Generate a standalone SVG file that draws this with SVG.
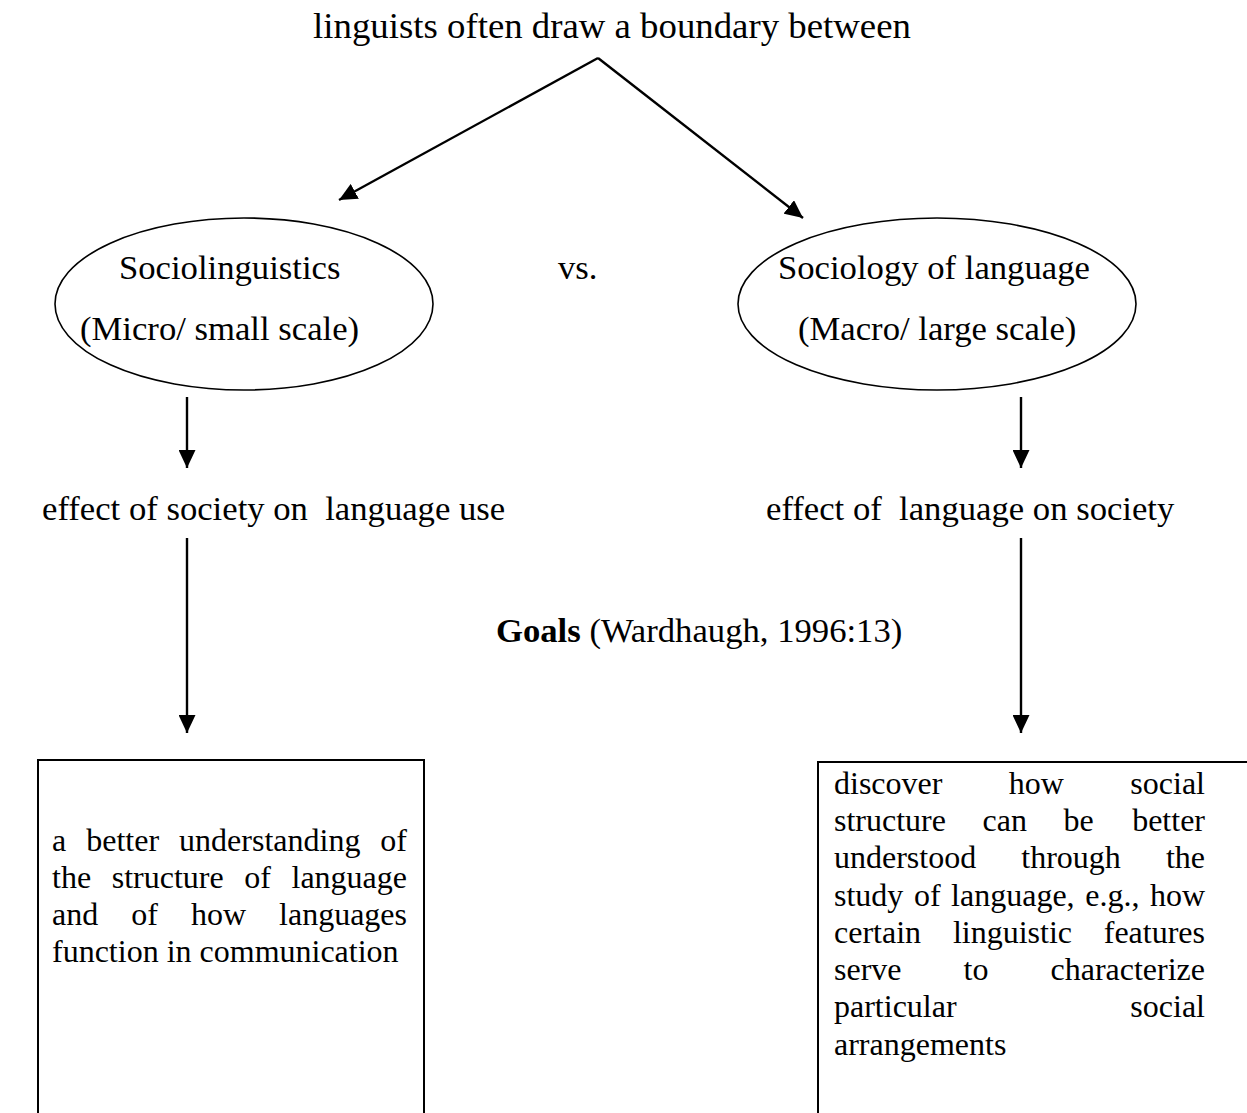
<svg xmlns="http://www.w3.org/2000/svg" width="1247" height="1113" viewBox="0 0 1247 1113">
<style>
text{font-family:"Liberation Serif","Times New Roman",serif;fill:#000;white-space:pre}
.m{font-size:34.67px}
.t{font-size:36.8px}
.b{font-size:32px}
.shape{fill:none;stroke:#000;stroke-width:1.6}
.box{fill:none;stroke:#000;stroke-width:2}
.conn{stroke:#000;stroke-width:2.4;fill:none}
</style>
<defs>
<marker id="ah" markerUnits="userSpaceOnUse" markerWidth="19" markerHeight="17" refX="18" refY="8.5" orient="auto">
<path d="M0,0 L18,8.5 L0,17 z" fill="#000"/>
</marker>
</defs>
<rect width="1247" height="1113" fill="#fff"/>
<g id="title"><text class="t" x="612" y="38" text-anchor="middle">linguists often draw a boundary between</text></g>
<g id="sociolinguistics">
<ellipse class="shape" cx="244" cy="304" rx="189" ry="86"/>
<text class="m" x="119" y="279">Sociolinguistics</text>
<text class="m" x="80" y="340">(Micro/ small scale)</text>
</g>
<g id="vs"><text class="m" x="558" y="279">vs.</text></g>
<g id="sociology">
<ellipse class="shape" cx="937" cy="304" rx="199" ry="86"/>
<text class="m" x="778" y="279">Sociology of language</text>
<text class="m" x="798" y="340">(Macro/ large scale)</text>
</g>
<g id="effect-left"><text class="m" x="42" y="520">effect of society on  language use</text></g>
<g id="effect-right"><text class="m" x="766" y="520">effect of  language on society</text></g>
<g id="goals"><text class="m" x="496" y="642"><tspan font-weight="bold">Goals</tspan> (Wardhaugh, 1996:13)</text></g>
<g id="box-left">
<rect class="box" x="38" y="760" width="386" height="380"/>
<text class="b" y="851"><tspan x="52">a</tspan><tspan x="86.2">better</tspan><tspan x="179.1">understanding</tspan><tspan x="407" text-anchor="end">of</tspan></text>
<text class="b" y="888"><tspan x="52">the</tspan><tspan x="111.7">structure</tspan><tspan x="244.2">of</tspan><tspan x="407" text-anchor="end">language</tspan></text>
<text class="b" y="925"><tspan x="52">and</tspan><tspan x="131.2">of</tspan><tspan x="190.9">how</tspan><tspan x="407" text-anchor="end">languages</tspan></text>
<text class="b" x="52" y="962">function in communication</text>
</g>
<g id="box-right">
<rect class="box" x="818" y="762" width="460" height="380"/>
<text class="b" y="794"><tspan x="834">discover</tspan><tspan x="1008.8">how</tspan><tspan x="1205" text-anchor="end">social</tspan></text>
<text class="b" y="831"><tspan x="834">structure</tspan><tspan x="982.6">can</tspan><tspan x="1063.6">be</tspan><tspan x="1205" text-anchor="end">better</tspan></text>
<text class="b" y="868"><tspan x="834">understood</tspan><tspan x="1021.3">through</tspan><tspan x="1205" text-anchor="end">the</tspan></text>
<text class="b" y="906"><tspan x="834">study</tspan><tspan x="913.9">of</tspan><tspan x="951.1">language,</tspan><tspan x="1085.2">e.g.,</tspan><tspan x="1205" text-anchor="end">how</tspan></text>
<text class="b" y="943"><tspan x="834">certain</tspan><tspan x="952.9">linguistic</tspan><tspan x="1205" text-anchor="end">features</tspan></text>
<text class="b" y="980"><tspan x="834">serve</tspan><tspan x="963.5">to</tspan><tspan x="1205" text-anchor="end">characterize</tspan></text>
<text class="b" y="1017"><tspan x="834">particular</tspan><tspan x="1205" text-anchor="end">social</tspan></text>
<text class="b" x="834" y="1055">arrangements</text>
</g>
<g id="connectors">
<line class="conn" x1="598" y1="58" x2="339" y2="200" marker-end="url(#ah)"/>
<line class="conn" x1="598" y1="58" x2="803" y2="218" marker-end="url(#ah)"/>
<line class="conn" x1="187" y1="397" x2="187" y2="468" marker-end="url(#ah)"/>
<line class="conn" x1="1021" y1="397" x2="1021" y2="468" marker-end="url(#ah)"/>
<line class="conn" x1="187" y1="538" x2="187" y2="733" marker-end="url(#ah)"/>
<line class="conn" x1="1021" y1="538" x2="1021" y2="733" marker-end="url(#ah)"/>
</g>
</svg>
